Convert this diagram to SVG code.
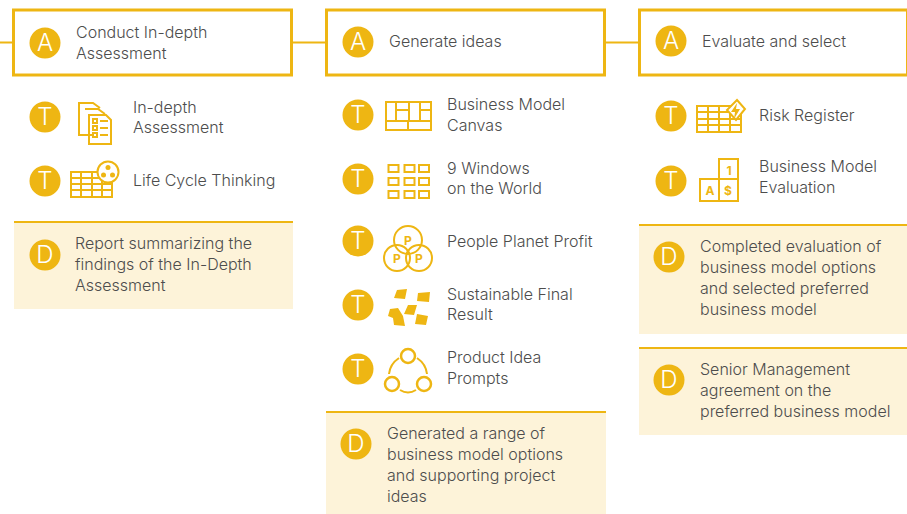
<svg xmlns="http://www.w3.org/2000/svg" width="907" height="514" viewBox="0 0 907 514">
<style>
text{font-family:"Inter","Liberation Sans",sans-serif;font-weight:300;font-size:16px;fill:#4d4d4d}
.b{fill:#fff;stroke:#eeb613;stroke-width:3}
.c{fill:#eeb613}
.l{fill:#fff;font-size:24px;text-anchor:middle}
.d{fill:#fdf3d9}
.r{fill:#eeb613}
.i{fill:none;stroke:#eeb613;stroke-width:2}
.t{fill:#eeb613;font-weight:700;text-anchor:middle;font-size:12px}
</style>
<g id="connectors">
<path d="M0 42.500H13M292 42.500H326M605 42.500H639" fill="none" stroke="#eeb613" stroke-width="2"/>
</g>
<g id="a1"><rect class="b" x="13.500" y="10" width="278" height="65"/><circle class="c" cx="45" cy="43" r="15.500"/><text class="l" x="45" y="51">A</text><text x="76" y="38">Conduct In-depth</text><text x="76" y="59">Assessment</text></g>
<g id="a2"><rect class="b" x="326.500" y="10" width="278" height="65"/><circle class="c" cx="358" cy="42" r="15.500"/><text class="l" x="358" y="50">A</text><text x="389" y="47">Generate ideas</text></g>
<g id="a3"><rect class="b" x="639.500" y="10" width="268" height="65"/><circle class="c" cx="671" cy="41" r="15.500"/><text class="l" x="671" y="49">A</text><text x="702" y="47">Evaluate and select</text></g>
<g id="t1"><circle class="c" cx="45" cy="117" r="15.500"/><text class="l" x="45" y="125">T</text>
<path class="i" d="M92 135H79V103H93L100 108M85 109H98L105 114M92 115H106L111 120V144H89V115Z"/><path class="i" d="M93 119h4v4h-4zM93 126h4v4h-4zM93 133h4v4h-4zM100 121h8M100 128h8M100 135h8" stroke-width="1.500"/>
<text x="133" y="113">In-depth</text><text x="133" y="133">Assessment</text></g>
<g id="t2"><circle class="c" cx="45" cy="181" r="15.500"/><text class="l" x="45" y="189">T</text>
<path class="i" d="M71 172H112V197H71ZM71 178H112M71 184H112M71 190H112M81 172V197M92 172V197M102 172V197"/><circle cx="108" cy="172" r="10.500" fill="#fff" stroke="#eeb613" stroke-width="2"/><circle class="c" cx="108" cy="167.500" r="2.500"/><circle class="c" cx="103.500" cy="175" r="2.500"/><circle class="c" cx="112.500" cy="175" r="2.500"/>
<text x="133" y="186">Life Cycle Thinking</text></g>
<g id="d1"><rect class="d" x="14" y="222" width="279" height="87"/><rect class="r" x="14" y="221" width="279" height="2"/><circle class="c" cx="45" cy="255" r="15.500"/><text class="l" x="45" y="263">D</text><text x="75" y="249">Report summarizing the</text><text x="75" y="270">findings of the In-Depth</text><text x="75" y="291">Assessment</text></g>
<g id="t3"><circle class="c" cx="358" cy="115" r="15.500"/><text class="l" x="358" y="123">T</text>
<path class="i" d="M386 102H431V130H386ZM386 121H431M408 121V130M396 102V121M409 102V121M420 102V121M396 110H409M420 110H431" stroke-width="2.200"/>
<text x="447" y="110">Business Model</text><text x="447" y="131">Canvas</text></g>
<g id="t4"><circle class="c" cx="358" cy="179" r="15.500"/><text class="l" x="358" y="187">T</text>
<path class="i" d="M388.500 165h10v7h-10zM404.500 165h10v7h-10zM419 165h10v7h-10zM388.500 178h10v7h-10zM404.500 178h10v7h-10zM419 178h10v7h-10zM388.500 191h10v7h-10zM404.500 191h10v7h-10zM419 191h10v7h-10z" stroke-width="2.500"/>
<text x="447" y="174">9 Windows</text><text x="447" y="194">on the World</text></g>
<g id="t5"><circle class="c" cx="358" cy="241" r="15.500"/><text class="l" x="358" y="249">T</text>
<circle class="i" cx="408" cy="240" r="14"/><circle class="i" cx="397" cy="258" r="13"/><circle class="i" cx="419" cy="258" r="13"/><text class="t" x="408" y="245">P</text><text class="t" x="397" y="263">P</text><text class="t" x="419" y="263">P</text>
<text x="447" y="247">People Planet Profit</text></g>
<g id="t6"><circle class="c" cx="358" cy="305" r="15.500"/><text class="l" x="358" y="313">T</text>
<path class="c" d="M397 290L407 289L405 299L394 298ZM418 293L430 292L429 302L417 301ZM408 305L417 305L414 315L404 314ZM390 309L398 308L403 316L405 326L394 325L393 318L388 316ZM417 314L428 316L426 325L415 324Z"/>
<text x="447" y="300">Sustainable Final</text><text x="447" y="320">Result</text></g>
<g id="t7"><circle class="c" cx="358" cy="369" r="15.500"/><text class="l" x="358" y="377">T</text>
<circle cx="408" cy="356" r="7" fill="none" stroke="#eeb613" stroke-width="2.500"/><circle cx="392" cy="384" r="7" fill="none" stroke="#eeb613" stroke-width="2.500"/><circle cx="424" cy="384" r="7" fill="none" stroke="#eeb613" stroke-width="2.500"/>
<path class="i" d="M399 358Q390 364 389 374M417 358Q426 364 427 374M400 390Q408 395 416 390"/>
<text x="447" y="363">Product Idea</text><text x="447" y="384">Prompts</text></g>
<g id="d2"><rect class="d" x="326" y="412" width="280" height="102"/><rect class="r" x="326" y="411" width="280" height="2"/><circle class="c" cx="356" cy="444" r="15.500"/><text class="l" x="356" y="452">D</text><text x="387" y="439">Generated a range of</text><text x="387" y="460">business model options</text><text x="387" y="481">and supporting project</text><text x="387" y="502">ideas</text></g>
<g id="t8"><circle class="c" cx="671" cy="116" r="15.500"/><text class="l" x="671" y="124">T</text>
<path class="i" d="M697 106H741V132H697ZM697 112H741M697 119H741M697 125H741M708 106V132M719 106V132M730 106V132" stroke-width="2"/><path d="M737 100L745 109L736 120L727 110Z" fill="#fff" stroke="#eeb613" stroke-width="2"/><path class="c" d="M737 103L731 112H735L734 119L740 109H736Z"/>
<text x="759" y="121">Risk Register</text></g>
<g id="t9"><circle class="c" cx="671" cy="181" r="15.500"/><text class="l" x="671" y="189">T</text>
<path class="i" d="M719 159H738V201H700V179H719ZM719 179H738M719 179V201" stroke-width="2.500"/><text class="t" x="729" y="175" font-size="13">1</text><text class="t" x="710" y="195">A</text><text class="t" x="728" y="195">$</text>
<text x="759" y="172">Business Model</text><text x="759" y="193">Evaluation</text></g>
<g id="d3"><rect class="d" x="639" y="225" width="268" height="109"/><rect class="r" x="639" y="224" width="268" height="2"/><circle class="c" cx="669" cy="257" r="15.500"/><text class="l" x="669" y="265">D</text><text x="700" y="252">Completed evaluation of</text><text x="700" y="273">business model options</text><text x="700" y="294">and selected preferred</text><text x="700" y="315">business model</text></g>
<g id="d4"><rect class="d" x="639" y="348" width="268" height="87"/><rect class="r" x="639" y="347" width="268" height="2"/><circle class="c" cx="669" cy="380" r="15.500"/><text class="l" x="669" y="388">D</text><text x="700" y="375">Senior Management</text><text x="700" y="396">agreement on the</text><text x="700" y="417">preferred business model</text></g>
</svg>
